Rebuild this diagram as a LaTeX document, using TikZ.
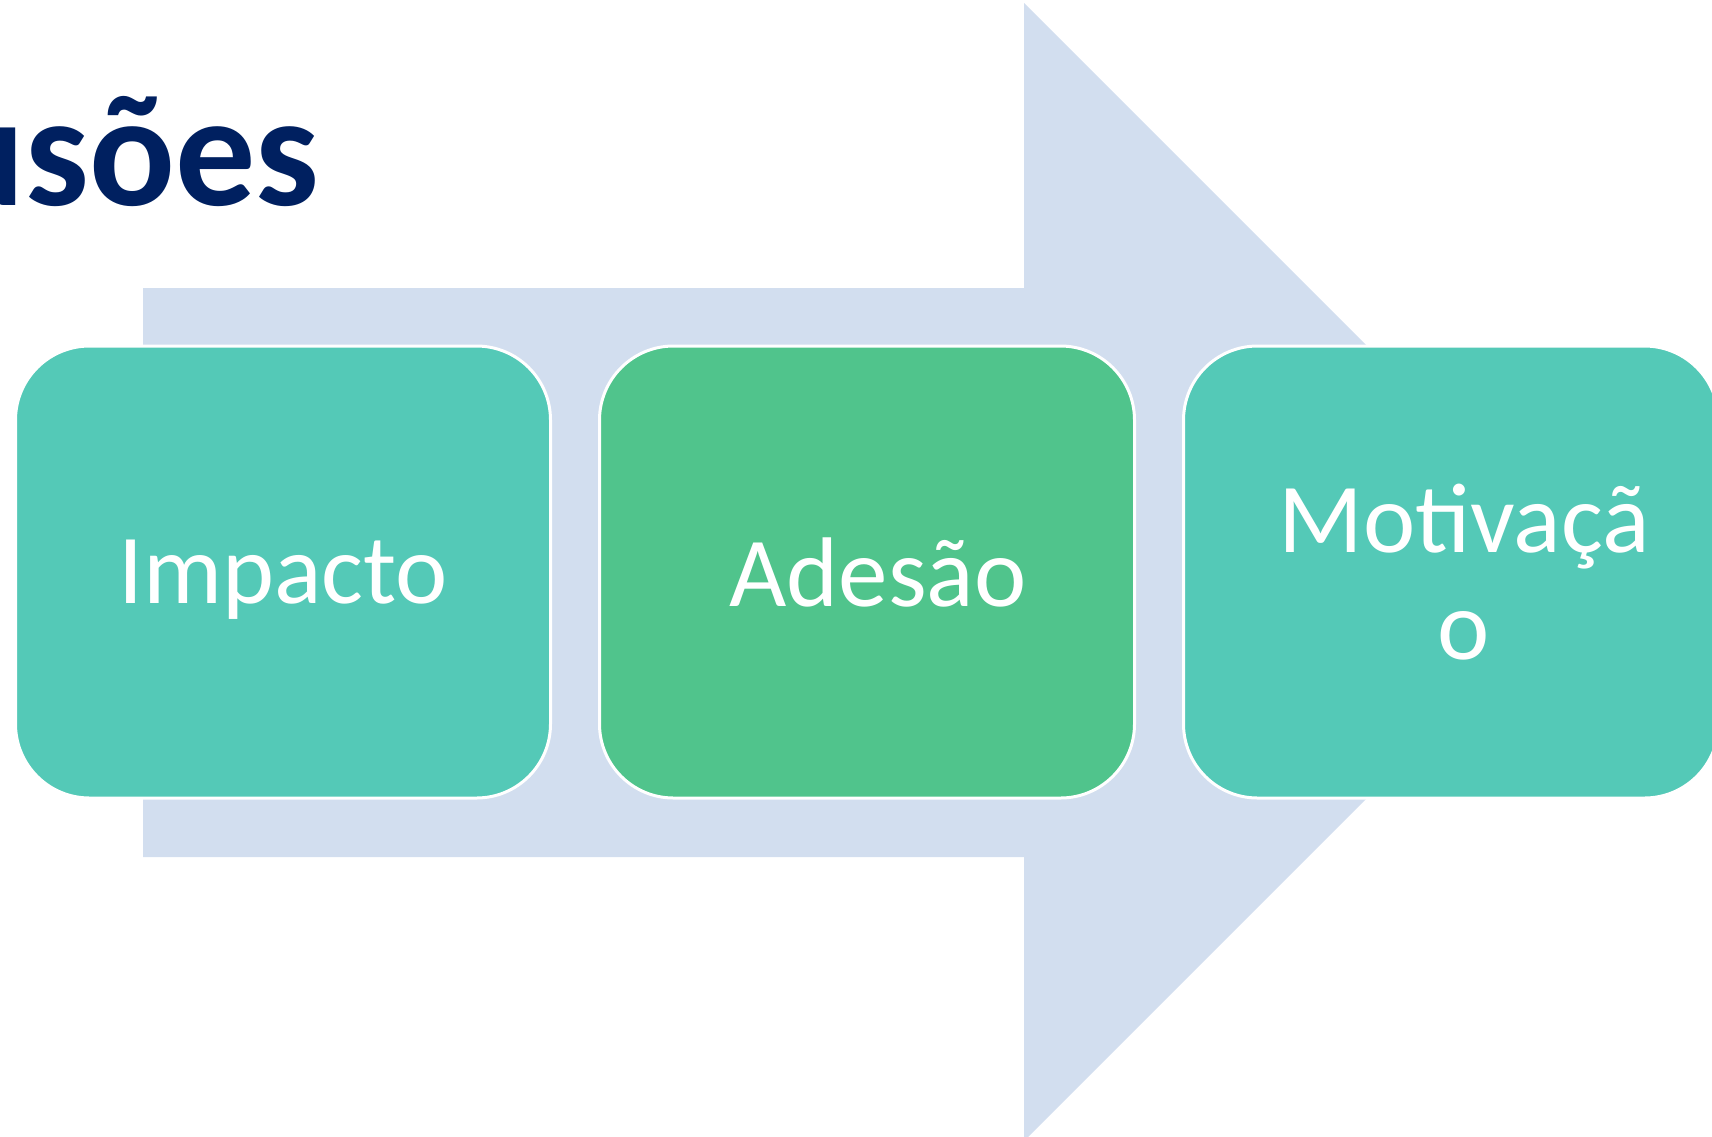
\documentclass[tikz,border=0pt]{standalone}
\usepackage{fontspec}
\setmainfont{Carlito}
\usepackage{tikz}
\usetikzlibrary{positioning}
\definecolor{arrowblue}{HTML}{D2DEEF}
\definecolor{tealbox}{HTML}{54C9B7}
\definecolor{greenbox}{HTML}{50C48C}
\definecolor{titlenavy}{HTML}{002060}

\begin{document}
\begin{tikzpicture}[x=0.5pt,y=-0.5pt,
  stage/.style={draw=white,line width=1.5pt,rounded corners=37pt,
    minimum width=267.5pt,minimum height=226pt,inner sep=0pt,text=white,
    font=\fontsize{49.5}{53.5}\selectfont,text depth=0pt,align=center},
  node distance=23pt]
\useasboundingbox (0,0) rectangle (1712,1136);
\clip (0,0) rectangle (1712,1136);
\fill[arrowblue] (143,288) -- (1024,288) -- (1024,3) -- (1593,572)
  -- (1024,1141) -- (1024,857) -- (143,857) -- cycle;
\node[anchor=base east,inner sep=0pt,text=titlenavy,
  font=\fontsize{80}{82}\selectfont\bfseries] (title) at (320,205) {us\~oes};
\node[stage,fill=tealbox] (imp) at (283,572) {Impacto};
\node[stage,fill=greenbox,right=of imp] (ades) {\hspace*{11pt}Ades\~ao};
\node[stage,fill=tealbox,right=of ades] (motiv)
  {\hspace*{13pt}Motiva\c{c}\~a\\\hspace*{13pt}o};
\end{tikzpicture}
\end{document}
